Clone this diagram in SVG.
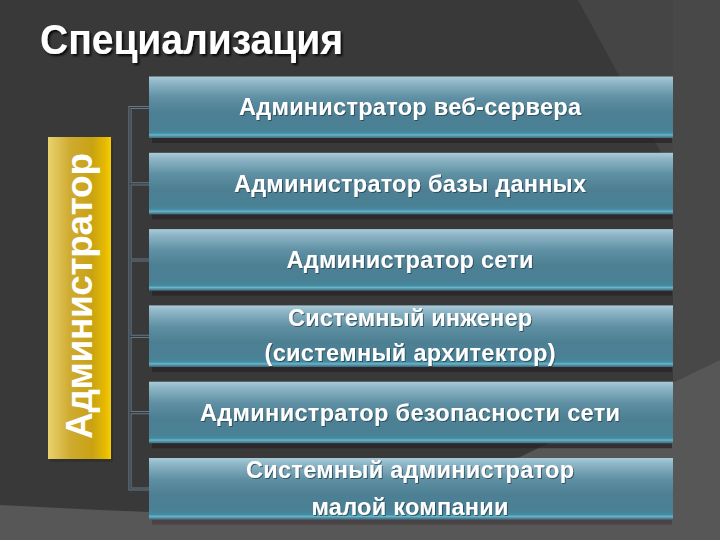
<svg xmlns="http://www.w3.org/2000/svg" width="720" height="540" viewBox="0 0 720 540">
  <defs>
    <linearGradient id="boxGrad" x1="0" y1="0" x2="0" y2="1">
      <stop offset="0" stop-color="#a8cbd9"/>
      <stop offset="0.1" stop-color="#8db5c6"/>
      <stop offset="0.35" stop-color="#5e8fa3"/>
      <stop offset="0.6" stop-color="#4d7f93"/>
      <stop offset="0.86" stop-color="#4a8195"/>
      <stop offset="0.92" stop-color="#418ca3"/>
      <stop offset="0.95" stop-color="#6fb3c6"/>
      <stop offset="0.975" stop-color="#4e8ca0"/>
      <stop offset="1" stop-color="#3d7085"/>
    </linearGradient>
    <linearGradient id="barGrad" x1="0" y1="0" x2="1" y2="0">
      <stop offset="0" stop-color="#e9d26e"/>
      <stop offset="0.35" stop-color="#cfab30"/>
      <stop offset="0.7" stop-color="#c9a214"/>
      <stop offset="0.92" stop-color="#e8bc00"/>
      <stop offset="1" stop-color="#f7cf00"/>
    </linearGradient>
    <filter id="tshadow" x="-10%" y="-30%" width="120%" height="160%">
      <feDropShadow dx="2" dy="2" stdDeviation="1.2" flood-color="#000" flood-opacity="0.85"/>
    </filter>
    <filter id="lshadow" x="-10%" y="-30%" width="120%" height="160%">
      <feDropShadow dx="1" dy="1" stdDeviation="0.6" flood-color="#1d3a48" flood-opacity="0.7"/>
    </filter>
    <style>
      .box { fill: url(#boxGrad); }
      .shadow { fill: #2a2425; opacity: 0.75; }
      .lbl { font-family: "Liberation Sans", Arial, sans-serif; font-weight: bold; font-size: 23.5px; fill: #ffffff; text-anchor: middle; filter: url(#lshadow); }
      .conn-outer { fill: none; stroke: #62798a; stroke-width: 3.2; }
      .conn-inner { fill: none; stroke: #3a3a3a; stroke-width: 1.2; }
      .title { font-family: "Liberation Sans", Arial, sans-serif; font-weight: bold; font-size: 42px; fill: #ffffff; filter: url(#tshadow); }
      .vert { font-family: "Liberation Sans", Arial, sans-serif; font-weight: bold; font-size: 37px; fill: #ffffff; text-anchor: middle; }
    </style>
  </defs>

  <!-- background -->
  <rect x="0" y="0" width="720" height="540" fill="#393939"/>
  <polygon points="578,0 720,0 720,360 673,384 673,175" fill="#454545"/>
  <polygon points="673,0 720,0 720,360 673,384" fill="#484848"/>
  <path d="M0,505 L100,510 L150,512 L520,457 L720,360 L720,540 L0,540 Z" fill="#575757"/>

  <!-- title -->
  <text class="title" x="40" y="54" textLength="303" lengthAdjust="spacingAndGlyphs">Специализация</text>

  <!-- root node -->
  <g id="node-root">
    <rect x="50" y="140" width="63" height="322" fill="#2a2a2a" opacity="0.5"/>
    <rect x="48" y="137" width="63" height="322" fill="url(#barGrad)"/>
    <text class="vert" transform="translate(92,296) rotate(-90)" x="0" y="0" textLength="286">Администратор</text>
  </g>

  <!-- connectors -->
  <g id="connectors">
    <path class="conn-outer" d="M149,107.5 H130 V489 H149 M130,183.8 H149 M130,260 H149 M130,336.4 H149 M130,412.7 H149"/>
    <path class="conn-inner" d="M149,107.5 H130 V489 H149 M130,183.8 H149 M130,260 H149 M130,336.4 H149 M130,412.7 H149"/>
  </g>

  <g id="node-1">
    <rect class="shadow" x="152" y="138" width="520" height="5"/>
    <rect class="box" x="149" y="76.5" width="524" height="61.5"/>
    <text class="lbl" x="410" y="115" textLength="342">Администратор веб-сервера</text>
  </g>
  <g id="node-2">
    <rect class="shadow" x="152" y="214.3" width="520" height="5"/>
    <rect class="box" x="149" y="152.8" width="524" height="61.5"/>
    <text class="lbl" x="410" y="192" textLength="352">Администратор базы данных</text>
  </g>
  <g id="node-3">
    <rect class="shadow" x="152" y="290.6" width="520" height="5"/>
    <rect class="box" x="149" y="229.1" width="524" height="61.5"/>
    <text class="lbl" x="410" y="268" textLength="247">Администратор сети</text>
  </g>
  <g id="node-4">
    <rect class="shadow" x="152" y="366.9" width="520" height="5"/>
    <rect class="box" x="149" y="305.4" width="524" height="61.5"/>
    <text class="lbl" x="410" y="326" textLength="244">Системный инженер</text>
    <text class="lbl" x="410" y="361" textLength="291">(системный архитектор)</text>
  </g>
  <g id="node-5">
    <rect class="shadow" x="152" y="443.2" width="520" height="5"/>
    <rect class="box" x="149" y="381.7" width="524" height="61.5"/>
    <text class="lbl" x="410" y="421" textLength="420">Администратор безопасности сети</text>
  </g>
  <g id="node-6">
    <rect x="152" y="519.5" width="520" height="5" fill="#4a3f44" opacity="0.8"/>
    <rect class="box" x="149" y="458" width="524" height="61.5"/>
    <text class="lbl" x="410" y="478" textLength="328">Системный администратор</text>
    <text class="lbl" x="410" y="515" textLength="197">малой компании</text>
  </g>
</svg>
